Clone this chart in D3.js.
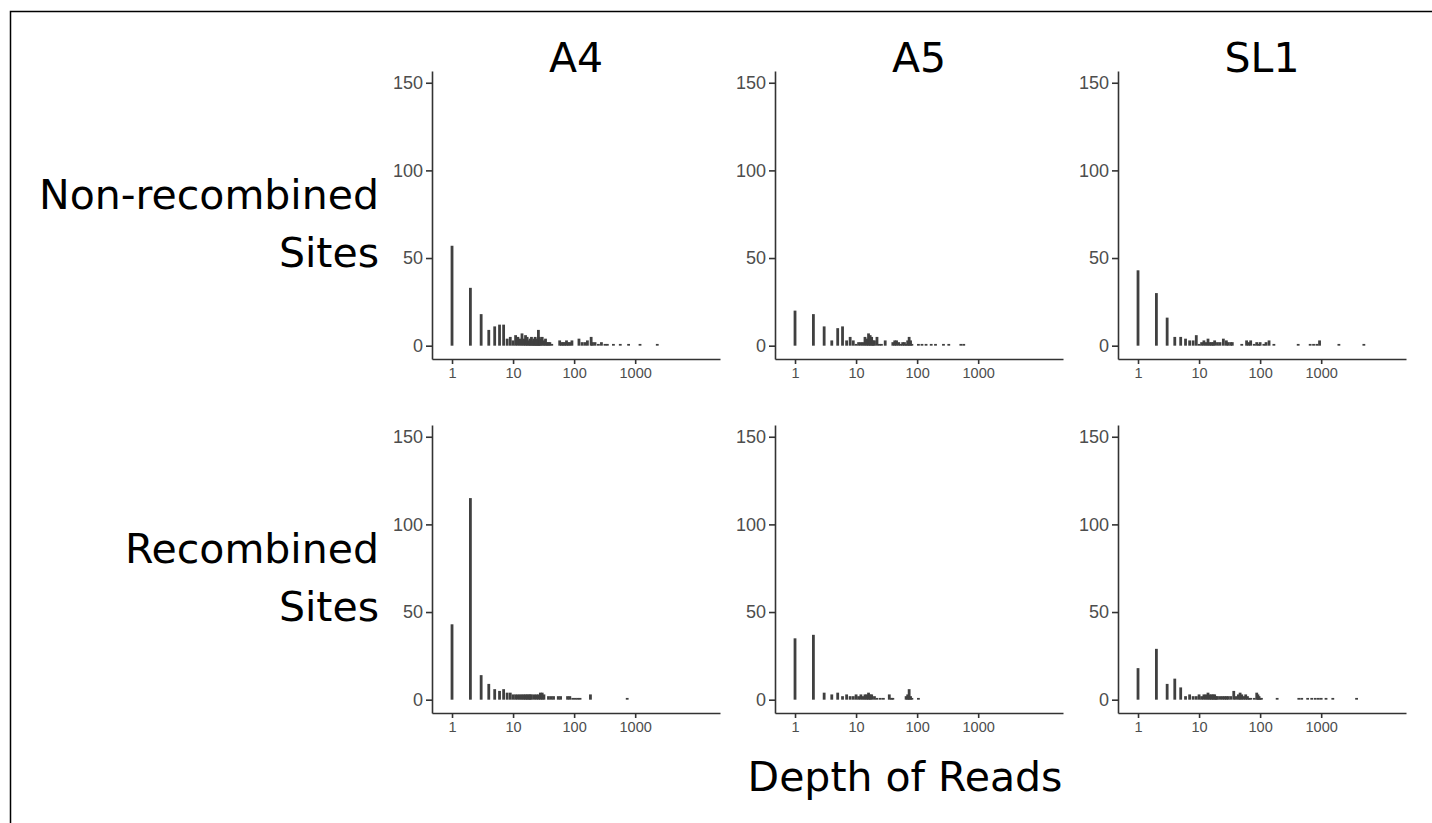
<!DOCTYPE html>
<html>
<head>
<meta charset="utf-8">
<script src="https://cdn.jsdelivr.net/npm/d3@7"></script>
<style>
  body { margin: 0; background: #fff; }
  .tick text { fill: #4d4d4d; font-family: "Liberation Sans", Arial, sans-serif; }
  .domain, .tick line { stroke: #333; stroke-width: 1.6; }
  .big { font-family: "DejaVu Sans", sans-serif; font-size: 41px; fill: #000; }
</style>
</head>
<body>
<div id="chart"></div>
<script>
// depth of reads -> number of sites
const a4Non = [[1,57],[2,33],[3,18],[4,9],[5,11],[6,12],[7,12],[8,4],[9,5],[10,3],[11,6],[12,5],[13,4],[14,7],[15,4],[16,6],[17,5],[18,3],[19,4],[20,5],[21,3],[22,4],[23,5],[24,3],[25,4],[26,9],[27,5],[28,4],[30,5],[32,3],[34,4],[36,2],[38,2],[40,2],[43,1],
  [58,3],[62,2],[66,2],[70,2],[75,3],[80,2],[85,2],[92,3],[120,4],[135,2],[150,2],[165,3],[190,5],[200,2],[220,2],[250,1],[280,2],[320,1],[350,1],[440,1],[570,1],[780,1],[1200,1],[2300,1]];
const a5Non = [[1,20],[2,18],[3,11],[4,3],[5,10],[6,11],[7,3],[8,5],[9,3],[10,1],[11,2],[12,2],[13,2],[14,5],[15,4],[16,7],[17,6],[18,5],[19,3],[20,3],[22,5],[24,1],[26,1],[30,3],
  [40,2],[43,3],[46,3],[50,2],[54,1],[58,2],[62,2],[66,1],[70,3],[74,5],[78,3],[82,1],[105,1],[120,1],[140,1],[170,1],[200,1],[270,1],[330,1],[520,1],[580,1]];
const sl1Non = [[1,43],[2,30],[3,16],[4,5],[5,5],[6,4],[7,3],[8,3],[9,6],[10,1],[11,2],[12,3],[13,2],[14,4],[15,2],[16,2],[17,2],[18,3],[20,2],[22,2],[25,4],[28,3],[30,2],[33,2],[35,2],
  [50,1],[60,3],[65,2],[70,3],[80,1],[88,2],[95,1],[100,2],[115,1],[125,2],[140,3],[168,1],[420,1],[660,1],[750,1],[850,1],[940,3],[1950,1],[5000,1]];

const a4Rec = [[1,43],[2,115],[3,14],[4,9],[5,6],[6,5],[7,6],[8,4],[9,4],[10,3],[11,3],[12,3],[13,3],[14,3],[15,3],[16,3],[17,3],[18,3],[19,3],[20,3],[22,3],[24,3],[26,3],[28,4],[30,4],[32,3],
  [38,2],[42,2],[46,2],[55,2],[60,2],[78,2],[85,2],[95,1],[105,1],[115,1],[125,1],[185,3],[740,1]];
const a5Rec = [[1,35],[2,37],[3,4],[4,3],[5,4],[6,2],[7,3],[8,2],[9,2],[10,3],[11,2],[12,3],[13,2],[14,3],[15,3],[16,4],[17,3],[18,3],[20,2],[22,1],[25,1],[28,1],[35,3],[38,1],[40,1],
  [66,2],[70,3],[74,6],[78,2],[82,1],[105,1]];
const sl1Rec = [[1,18],[2,29],[3,9],[4,12],[5,7],[6,2],[7,3],[8,2],[9,2],[10,3],[11,2],[12,3],[13,3],[14,4],[15,3],[16,3],[17,3],[18,3],[19,2],[20,2],[22,2],[24,2],[26,2],[28,2],[30,2],[33,2],[37,5],[40,2],
  [44,3],[47,4],[50,3],[54,2],[58,3],[62,2],[66,1],[70,1],[80,1],[88,4],[92,3],[96,2],[100,1],[105,1],[190,1],[430,1],[480,1],[600,1],[700,1],[800,1],[900,1],[1000,1],[1200,1],[1550,1],[3800,1]];

const samples = ["A4", "A5", "SL1"];
const siteTypes = [["Non-recombined", "Sites"], ["Recombined", "Sites"]];
const panelData = [[a4Non, a5Non, sl1Non], [a4Rec, a5Rec, sl1Rec]];
const yTicks = [0, 50, 100, 150];
const xTicks = [1, 10, 100, 1000];

const width = 1432, height = 823;
const panelW = 288, panelH = 288;
const colX = [432, 775, 1118];
const rowY = [71, 425];

const svg = d3.select("#chart").append("svg")
    .attr("width", width)
    .attr("height", height);

// marco del dibujo
svg.append("path")
    .attr("d", "M10.5," + height + "V11.5H" + width)
    .attr("fill", "none")
    .attr("stroke", "#000")
    .attr("stroke-width", 1.5);

const x = d3.scaleLog().domain([0.47, 24500]).range([0, panelW]);
const y = d3.scaleLinear().domain([-7.6, 156.7]).range([panelH, 0]);

panelData.forEach((row, r) => {
    row.forEach((data, c) => {
        const g = svg.append("g")
            .attr("transform", "translate(" + colX[c] + "," + rowY[r] + ")");

        // una barra por cada profundidad
        g.selectAll("rect")
            .data(data)
            .enter().append("rect")
            .attr("x", d => x(d[0]) - 1.4)
            .attr("width", 2.8)
            .attr("y", d => y(d[1]))
            .attr("height", d => y(0) - y(d[1]))
            .attr("fill", "#404040");

        g.append("g")
            .call(d3.axisLeft(y).tickValues(yTicks).tickSize(6).tickSizeOuter(0).tickPadding(3))
            .selectAll("text").style("font-size", "18px");

        g.append("g")
            .attr("transform", "translate(0," + panelH + ")")
            .call(d3.axisBottom(x).tickValues(xTicks).tickFormat(d3.format("d")).tickSize(5).tickSizeOuter(0).tickPadding(4))
            .selectAll("text").style("font-size", "14.5px");
    });
});

// titulos de columnas
svg.selectAll(".col-title")
    .data(samples)
    .enter().append("text")
    .attr("class", "big")
    .attr("x", (d, i) => colX[i] + panelW / 2)
    .attr("y", 72)
    .attr("text-anchor", "middle")
    .text(d => d);

// titulos de filas
siteTypes.forEach((lines, r) => {
    svg.append("text")
        .attr("class", "big")
        .attr("text-anchor", "end")
        .selectAll("tspan")
        .data(lines)
        .enter().append("tspan")
        .attr("x", 379)
        .attr("y", (d, i) => rowY[r] + 138 + i * 58)
        .text(d => d);
});

svg.append("text")
    .attr("class", "big")
    .attr("x", colX[1] + 130)
    .attr("y", 791)
    .attr("text-anchor", "middle")
    .text("Depth of Reads");
</script>
</body>
</html>
